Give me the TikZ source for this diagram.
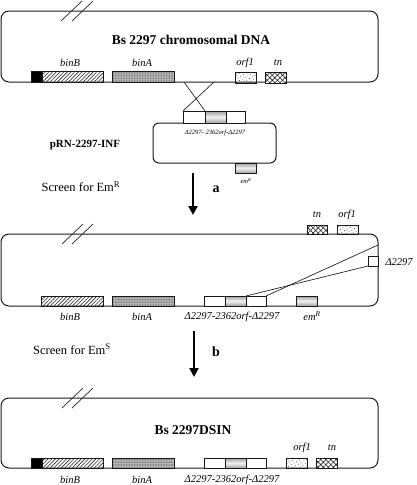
\documentclass[tikz,border=0pt]{standalone}
\usepackage{fontspec}
\setmainfont{Liberation Serif}
\usetikzlibrary{patterns,patterns.meta,arrows.meta}
\begin{document}
\begin{tikzpicture}[x=1pt,y=-1pt,
  chrom/.style={draw=black!90, line width=1pt, rounded corners=8pt},
  slash/.style={draw=black!85, line width=0.7pt},
  gene/.style={draw=black!90, line width=0.75pt, inner sep=0pt, outer sep=0pt, anchor=north west, minimum height=11pt},
  blackg/.style={gene, fill=black, minimum width=11pt},
  bing/.style={gene, pattern={Lines[angle=45,distance=2.6pt,line width=0.6pt]}, pattern color=black!85},
  binag/.style={gene, preaction={fill=gray!55}, pattern={Dots[distance=1.6pt,radius=0.4pt]}, pattern color=black!70},
  orfg/.style={gene, pattern={Dots[angle=30,distance=3.2pt,radius=0.5pt]}, pattern color=black!80},
  tng/.style={gene, preaction={fill=white}, pattern={Hatch[angle=45,distance=3.6pt,line width=0.6pt]}, pattern color=black!85},
  whiteg/.style={gene, fill=white},
  grayg/.style={gene, top color=gray!75, bottom color=gray!75, middle color=gray!10},
  glabel/.style={font=\itshape\fontsize{10.5}{12}\selectfont},
  small/.style={font=\itshape\fontsize{6.5}{8}\selectfont},
  titlet/.style={font=\bfseries\fontsize{13.5}{15}\selectfont},
  side/.style={font=\fontsize{12.5}{14}\selectfont},
  letter/.style={font=\bfseries\fontsize{14}{16}\selectfont},
  bigarrow/.style={line width=2.6pt, -{Triangle[width=9pt,length=9pt]}},
  thin/.style={draw=black!90, line width=0.65pt}
]
\useasboundingbox (0,0) rectangle (416,485);

% ---------------- Box 1 ----------------
\draw[chrom] (1,11) rectangle (378,82);
\draw[slash] (61,21) -- (82,1);
\draw[slash] (72,21) -- (93,1);
\node[titlet] (t1) at (191,40) {Bs 2297 chromosomal DNA};
\node[blackg] (k1) at (31,71) {};
\node[bing, minimum width=61pt] (bB1) at (42,71) {};
\node[binag, minimum width=62pt] (bA1) at (112,71) {};
\node[orfg, minimum width=21pt] (o1) at (235,72) {};
\node[tng, minimum width=21pt] (tn1) at (265,72) {};
\node[glabel] (lbB1) at (70,63) {binB};
\node[glabel] (lbA1) at (142,63) {binA};
\node[glabel] (lo1) at (245,63) {orf1};
\node[glabel] (lt1) at (278,63) {tn};
\coordinate (x1) at (184,82);
\coordinate (x2) at (214,82);

% ---------------- Plasmid ----------------
\draw[chrom, rounded corners=6pt] (153,123) rectangle (276,163);
\node[whiteg, minimum width=22pt, minimum height=12pt] (pw1) at (183,111) {};
\node[grayg, minimum width=21pt, minimum height=12pt] (pg) at (205,111) {};
\node[whiteg, minimum width=19pt, minimum height=12pt] (pw2) at (226,111) {};
\node[grayg, minimum width=21pt, minimum height=10pt] (pem) at (235,163) {};
\node[small] (pt) at (215,133) {Δ2297- 2362orf-Δ2297};
\node[small] (pemR) at (246,181) {em\textsuperscript{R}};
\draw[thin] (x1) -- (pg.north west);
\draw[thin] (x2) -- (pw1.north west);

\node[font=\bfseries\fontsize{11}{13}\selectfont] (pname) at (85,145) {pRN-2297-INF};
\node[side] (sR) at (81,187) {Screen for Em\textsuperscript{R}};

\coordinate (a0) at (193,173);
\coordinate (a1) at (193,215);
\draw[bigarrow] (a0) -- (a1);
\node[letter] (la) at (216,189) {a};

% ---------------- Box 2 ----------------
\draw[chrom] (1,234) rectangle (378,306);
\draw[slash] (62,244) -- (83,224);
\draw[slash] (72,244) -- (93,224);
\node[tng, minimum width=20pt, minimum height=9pt] (tn2) at (307,225) {};
\node[orfg, minimum width=21pt, minimum height=9pt] (o2) at (337,225) {};
\node[glabel] (lt2) at (317,215) {tn};
\node[glabel] (lo2) at (347,215) {orf1};
\node[whiteg, minimum width=10pt, minimum height=10pt] (d2) at (368,256) {};
\node[glabel, anchor=west] (ld2) at (382,262) {Δ2297};
\node[bing, minimum width=62pt, minimum height=10pt] (bB2) at (41,296) {};
\node[binag, minimum width=62pt, minimum height=10pt] (bA2) at (112,296) {};
\node[whiteg, minimum width=21pt, minimum height=10pt] (cw1) at (204,296) {};
\node[grayg, minimum width=21pt, minimum height=10pt] (cg) at (225,296) {};
\node[whiteg, minimum width=20pt, minimum height=10pt] (cw2) at (246,296) {};
\node[grayg, minimum width=21pt, minimum height=10pt] (em2) at (296,296) {};
\coordinate (r2) at (378,245);
\draw[thin] (r2) -- (cw2.north east);
\draw[thin] (d2.south west) -- (cg.north east);
\node[glabel] (lbB2) at (70,317) {binB};
\node[glabel] (lbA2) at (142,317) {binA};
\node[glabel] (lc2) at (232,317) {Δ2297-2362orf-Δ2297};
\node[glabel] (lem2) at (312,316) {em\textsuperscript{R}};

\node[side] (sS) at (72,349) {Screen for Em\textsuperscript{S}};
\coordinate (b0) at (194,331);
\coordinate (b1) at (194,377);
\draw[bigarrow] (b0) -- (b1);
\node[letter] (lb) at (216,352) {b};

% ---------------- Box 3 ----------------
\draw[chrom] (1,398) rectangle (378,468);
\draw[slash] (62,408) -- (83,388);
\draw[slash] (72,408) -- (93,388);
\node[titlet] (t3) at (193,430) {Bs 2297DSIN};
\node[blackg, minimum height=10pt] (k3) at (31,458) {};
\node[bing, minimum width=61pt, minimum height=10pt] (bB3) at (42,458) {};
\node[binag, minimum width=62pt, minimum height=10pt] (bA3) at (112,458) {};
\node[whiteg, minimum width=21pt, minimum height=10pt] (dw1) at (204,458) {};
\node[grayg, minimum width=21pt, minimum height=10pt] (dg) at (225,458) {};
\node[whiteg, minimum width=20pt, minimum height=10pt] (dw2) at (246,458) {};
\node[orfg, minimum width=21pt, minimum height=10pt] (o3) at (286,458) {};
\node[tng, minimum width=21pt, minimum height=10pt] (tn3) at (316,458) {};
\node[glabel] (lo3) at (302,448) {orf1};
\node[glabel] (lt3) at (332,448) {tn};
\node[glabel] (lbB3) at (70,480) {binB};
\node[glabel] (lbA3) at (142,480) {binA};
\node[glabel] (lc3) at (232,480) {Δ2297-2362orf-Δ2297};
\end{tikzpicture}
\end{document}
